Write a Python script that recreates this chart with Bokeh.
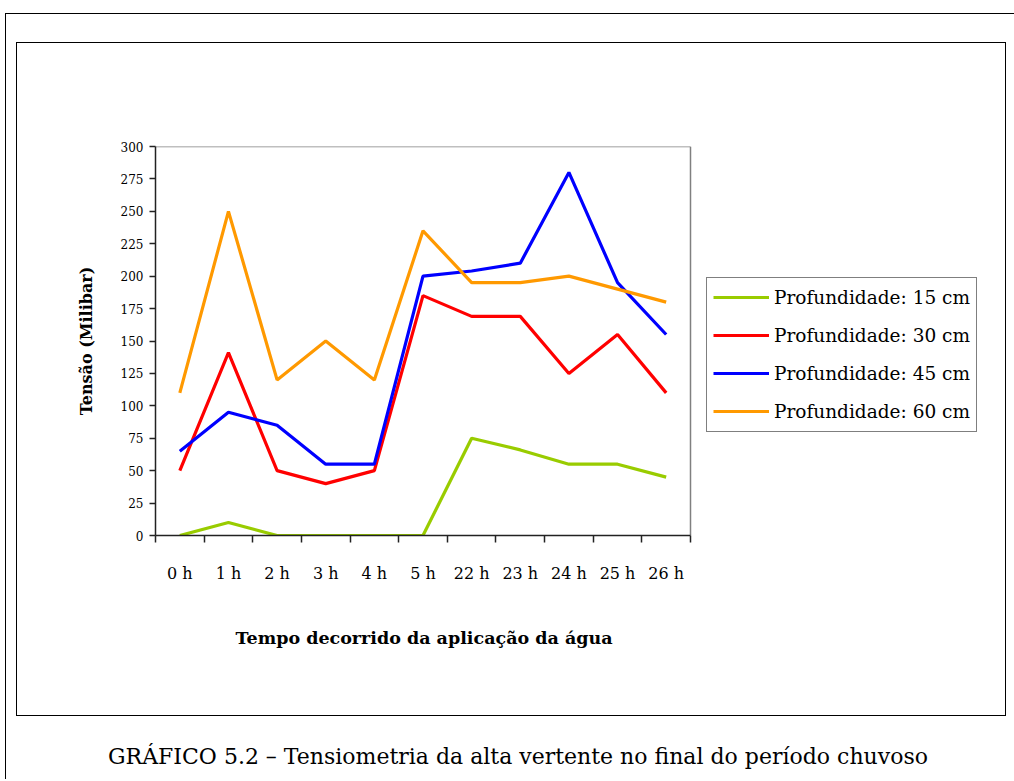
from bokeh.plotting import figure
from bokeh.models import FixedTicker, Legend, LegendItem, Range1d, Div, Column, Title
from bokeh.embed import file_html
from bokeh.resources import INLINE

hours = ["0 h", "1 h", "2 h", "3 h", "4 h", "5 h", "22 h", "23 h", "24 h", "25 h", "26 h"]
prof_15 = [0, 10, 0, 0, 0, 0, 75, 66, 55, 55, 45]
prof_30 = [50, 141, 50, 40, 50, 185, 169, 169, 125, 155, 110]
prof_45 = [65, 95, 85, 55, 55, 200, 204, 210, 280, 195, 155]
prof_60 = [110, 250, 120, 150, 120, 235, 195, 195, 200, 190, 180]
series_names = ["Profundidade: 15 cm", "Profundidade: 30 cm", "Profundidade: 45 cm", "Profundidade: 60 cm"]
series_values = [prof_15, prof_30, prof_45, prof_60]
colors = ["#99CC00", "#FF0000", "#0000FF", "#FF9900"]
y_ticks = list(range(0, 301, 25))
caption = "GRÁFICO 5.2 – Tensiometria da alta vertente no final do período chuvoso"
x_title = "Tempo decorrido da aplicação da água"
y_title = "Tensão (Milibar)"

SERIF = "DejaVu Serif"

# chart area; the data region occupies 535 px of a wider frame (legend lives inside the frame)
FIG_W, FIG_H = 990, 674
B_LEFT, B_TOP, B_BOTTOM = 138, 103, 182
DATA_W = 535
FRAME_W = 970 - B_LEFT
n = len(hours)
x_start = -0.5
x_end = x_start + n * FRAME_W / DATA_W

p = figure(width=FIG_W, height=FIG_H, output_backend="svg", toolbar_location=None,
           x_range=Range1d(x_start, x_end), y_range=Range1d(0, 300),
           min_border_left=B_LEFT, min_border_right=FIG_W - B_LEFT - FRAME_W,
           min_border_top=B_TOP, min_border_bottom=B_BOTTOM,
           margin=(28, 0, 0, 10), styles={"border": "1px solid black"})
p.xgrid.visible = False
p.ygrid.visible = False
p.outline_line_color = None
p.background_fill_color = "white"
p.border_fill_color = "white"

# grey plot-area border (top and right edges) at the data extent
p.segment(x0=[x_start, n - 0.5], y0=[300, 0], x1=[n - 0.5, n - 0.5], y1=[300, 300],
          line_color="#808080", line_width=1.5)

xpos = list(range(n))
xa = p.xaxis[0]
xa.bounds = (x_start, n - 0.5)
xa.ticker = FixedTicker(ticks=xpos, minor_ticks=[i - 0.5 for i in range(n + 1)])
xa.major_label_overrides = {i: h for i, h in enumerate(hours)}
xa.major_tick_line_color = None
xa.major_tick_out = 0
xa.major_tick_in = 0
xa.minor_tick_line_color = "#222222"
xa.minor_tick_out = 7
xa.minor_tick_in = 0
xa.minor_tick_line_width = 1.5
xa.axis_line_color = "#222222"
xa.axis_line_width = 1.5
xa.major_label_standoff = 21
xa.major_label_text_font = SERIF
xa.major_label_text_font_size = "16px"
xa.major_label_text_color = "black"

ya = p.yaxis[0]
ya.ticker = FixedTicker(ticks=y_ticks, minor_ticks=[])
ya.major_tick_out = 6
ya.major_tick_in = 0
ya.major_tick_line_color = "#222222"
ya.major_tick_line_width = 1.5
ya.axis_line_color = "#222222"
ya.axis_line_width = 1.5
ya.major_label_standoff = 6
ya.major_label_text_font = SERIF
ya.major_label_text_font_size = "12px"
ya.major_label_text_color = "black"
ya.axis_label = y_title
ya.axis_label_text_font = SERIF
ya.axis_label_text_font_style = "bold"
ya.axis_label_text_font_size = "16px"
ya.axis_label_text_color = "black"
ya.axis_label_standoff = 22

items = []
for name, vals, c in zip(series_names, series_values, colors):
    r = p.line(xpos, vals, line_color=c, line_width=3.2)
    items.append(LegendItem(label=name, renderers=[r]))

legend = Legend(items=items, location=(551, 103),
                border_line_color="black", border_line_width=1,
                background_fill_color="white", background_fill_alpha=1,
                padding=dict(left=6, right=6, top=4, bottom=5), spacing=8, margin=0, label_standoff=5,
                glyph_width=56, glyph_height=30, label_height=30,
                label_text_font=SERIF, label_text_font_size="18.5px", label_text_color="black")
p.add_layout(legend)

# x-axis title, centred under the data region
p.add_layout(Title(text=x_title, align="left", offset=80, standoff=80,
                   text_font=SERIF, text_font_size="17.5px", text_font_style="bold",
                   text_color="black"), "below")

cap = Div(text=caption, width=990, height=30, margin=(26, 0, 0, 17),
          styles={"text-align": "center", "font-family": SERIF, "font-size": "22px",
                  "line-height": "30px", "color": "black"})

root = Column(children=[p, cap], width=1009, height=766, margin=(13, 0, 0, 5),
              styles={"border-top": "1.5px solid black", "border-left": "1.5px solid black"})

open("out.html", "w").write(file_html(root, INLINE))
